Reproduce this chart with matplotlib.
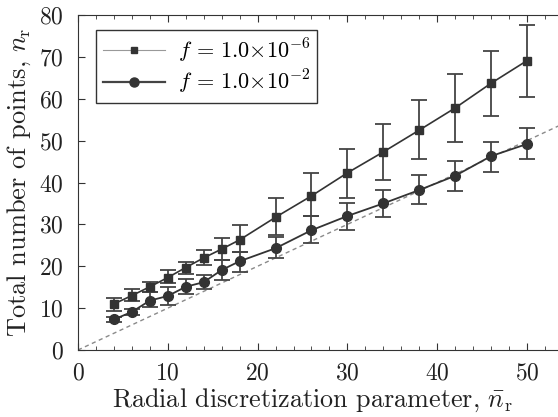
import matplotlib
matplotlib.use("Agg")
import matplotlib.pyplot as plt
import numpy as np
from matplotlib.ticker import MultipleLocator
from matplotlib.lines import Line2D

plt.rcParams['font.family'] = 'serif'
plt.rcParams['font.serif'] = ['cmr10']
plt.rcParams['mathtext.fontset'] = 'cm'
plt.rcParams['axes.unicode_minus'] = False
plt.rcParams['axes.formatter.use_mathtext'] = True

nbar = [4, 6, 8, 10, 12, 14, 16, 18, 22, 26, 30, 34, 38, 42, 46, 50]

sq_mean = [11.0, 13.0, 15.1, 17.3, 19.7, 22.0, 24.1, 26.3, 31.7, 36.8, 42.3, 47.3, 52.5, 57.8, 63.7, 69.1]
sq_hi = [12.5, 14.5, 16.3, 19.0, 21.1, 23.9, 26.7, 29.8, 36.2, 42.2, 47.9, 53.9, 59.7, 65.9, 71.4, 77.6]
sq_lo = [9.4, 11.8, 13.9, 15.9, 18.1, 20.3, 21.5, 23.5, 27.4, 32.0, 36.2, 40.6, 45.7, 49.7, 55.9, 60.3]

ci_mean = [7.3, 9.1, 11.8, 12.9, 15.1, 16.2, 19.1, 21.2, 24.3, 28.6, 32.0, 35.0, 38.2, 41.6, 46.3, 49.2]
ci_hi = [7.9, 9.9, 13.9, 15.1, 16.9, 17.9, 21.5, 23.5, 27.0, 32.0, 35.2, 38.3, 41.8, 45.1, 49.7, 53.1]
ci_lo = [6.6, 8.4, 10.3, 10.7, 13.4, 14.5, 16.7, 18.7, 21.9, 25.5, 28.6, 31.8, 34.8, 37.9, 42.4, 45.6]

ref_x = [0, 60]
ref_y = [0, 60]

labels = [r'$f\,=\,1.0{\times}10^{-6}$', r'$f\,=\,1.0{\times}10^{-2}$']

fig = plt.figure(figsize=(5.58, 4.17), dpi=100)
ax = fig.add_axes([78/558, 1-350/417, (600-78)/558, 335/417])

ax.plot(ref_x, ref_y, ls=(0, (3, 2.5)), color='#8a8a8a', lw=1.0, zorder=1)

sm = np.array(sq_mean); cm = np.array(ci_mean)
ax.errorbar(nbar, sq_mean, yerr=[sm - np.array(sq_lo), np.array(sq_hi) - sm],
            fmt='none', ecolor='#444444', elinewidth=1.3, capsize=6, capthick=1.3, zorder=2)
ax.errorbar(nbar, ci_mean, yerr=[cm - np.array(ci_lo), np.array(ci_hi) - cm],
            fmt='none', ecolor='#444444', elinewidth=1.3, capsize=6, capthick=1.3, zorder=2)
ax.plot(nbar, sq_mean, color='#333333', lw=1.2, marker='s', ms=6, zorder=3)
ax.plot(nbar, ci_mean, color='#333333', lw=1.3, marker='o', ms=7, zorder=3)

ax.set_xlim(0, (600-78)/8.98)
ax.set_ylim(0, 80)
ax.xaxis.set_major_locator(MultipleLocator(10))
ax.xaxis.set_minor_locator(MultipleLocator(2))
ax.yaxis.set_major_locator(MultipleLocator(10))
ax.tick_params(which='both', direction='in', top=True, right=False, labelsize=17, color='#333333',
               labelcolor='#222222')
ax.tick_params(axis='y', pad=10)
ax.tick_params(axis='x', pad=9)
ax.tick_params(which='major', length=5)
ax.tick_params(which='minor', length=3)
ax.spines['right'].set_visible(False)
for s in ['left', 'bottom', 'top']:
    ax.spines[s].set_color('#333333')

ax.set_xlabel(r'Radial discretization parameter, $\bar{n}_\mathrm{r}$', fontsize=18.8, color='#222222')
ax.xaxis.set_label_coords((313-78)/522, -(400-350)/335, transform=ax.transAxes)
ax.xaxis.label.set_va('center')
ax.set_ylabel(r'Total number of points, $n_\mathrm{r}$', fontsize=19, labelpad=5, color='#222222')

handles = [Line2D([], [], color='#999999', lw=0.8, marker='s', ms=4.5, mfc='#333333', mec='#333333'),
           Line2D([], [], color='#444444', lw=1.6, marker='o', ms=6.5, mfc='#333333', mec='#333333')]
leg = ax.legend(handles, labels, loc='upper left', bbox_to_anchor=(18/522, 1-15/335), fontsize=16,
                fancybox=False, edgecolor='#333333', framealpha=1, borderpad=0.3, handlelength=2.8,
                labelspacing=0.15, handletextpad=0.6, borderaxespad=0)
leg.get_frame().set_linewidth(1.0)

fig.savefig('out.png', dpi=100)
